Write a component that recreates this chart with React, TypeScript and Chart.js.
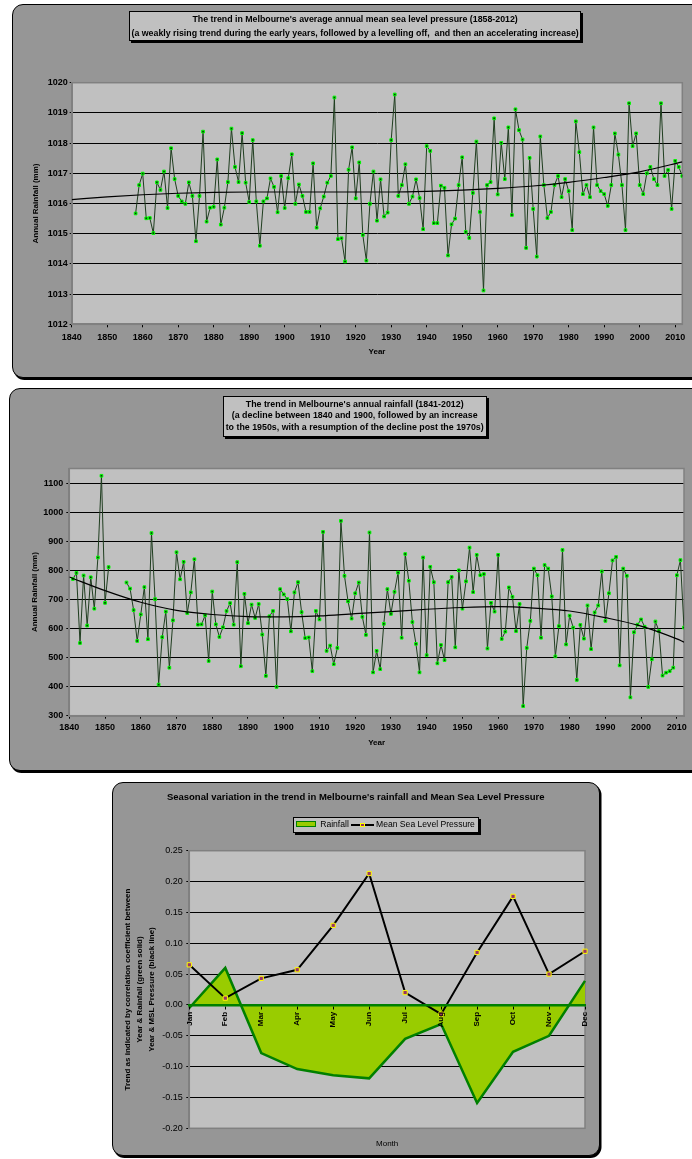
import React, { useEffect, useRef } from 'react';
import { Chart, registerables } from 'chart.js';

Chart.register(...registerables);

const FONT = '"Liberation Sans", Arial, Helvetica, sans-serif';

// ---------- Chart 1: Melbourne mean sea level pressure ----------
const PRESSURE_START_YEAR = 1858;
const PRESSURE_VALUES = [
  1015.67, 1016.61, 1016.99, 1015.51, 1015.52, 1015.02, 1016.70, 1016.45, 1017.06, 1015.85,
  1017.83, 1016.81, 1016.25, 1016.07, 1015.99, 1016.70, 1016.25, 1014.75, 1016.25, 1018.38,
  1015.40, 1015.86, 1015.89, 1017.46, 1015.30, 1015.86, 1016.71, 1018.48, 1017.21, 1016.71,
  1018.33, 1016.69, 1016.05, 1018.10, 1016.07, 1014.60, 1016.07, 1016.17, 1016.83, 1016.55,
  1015.71, 1016.91, 1015.85, 1016.84, 1017.63, 1015.99, 1016.63, 1016.25, 1015.72, 1015.72,
  1017.33, 1015.20, 1015.84, 1016.23, 1016.69, 1016.91, 1019.51, 1014.82, 1014.85, 1014.08,
  1017.12, 1017.86, 1016.17, 1017.36, 1014.96, 1014.11, 1015.99, 1017.06, 1015.43, 1016.80,
  1015.57, 1015.70, 1018.10, 1019.61, 1016.25, 1016.61, 1017.30, 1015.99, 1016.23, 1016.80,
  1016.18, 1015.15, 1017.90, 1017.74, 1015.35, 1015.35, 1016.59, 1016.52, 1014.28, 1015.31,
  1015.50, 1016.61, 1017.53, 1015.06, 1014.86, 1016.35, 1018.05, 1015.72, 1013.12, 1016.61,
  1016.71, 1018.82, 1016.30, 1018.01, 1016.81, 1018.52, 1015.62, 1019.12, 1018.43, 1018.12,
  1014.53, 1017.51, 1015.82, 1014.24, 1018.22, 1016.61, 1015.52, 1015.72, 1016.61, 1016.91,
  1016.21, 1016.81, 1016.41, 1015.12, 1018.72, 1017.70, 1016.31, 1016.61, 1016.21, 1018.52,
  1016.61, 1016.41, 1016.31, 1015.92, 1016.61, 1018.32, 1017.62, 1016.61, 1015.12, 1019.32,
  1017.90, 1018.32, 1016.61, 1016.31, 1017.00, 1017.21, 1016.81, 1016.61, 1019.32, 1016.91,
  1017.11, 1015.82, 1017.41, 1017.21, 1016.91,
];
const PRESSURE_TREND_YEARS = [1840, 1850, 1860, 1870, 1880, 1890, 1900, 1910, 1920, 1930, 1940, 1950, 1960, 1970, 1980, 1990, 2000, 2010, 2012];
const PRESSURE_TREND_VALUES = [1016.13, 1016.22, 1016.29, 1016.34, 1016.37, 1016.38, 1016.38, 1016.38, 1016.38, 1016.38, 1016.40, 1016.44, 1016.50, 1016.58, 1016.70, 1016.86, 1017.05, 1017.32, 1017.38];
const PRESSURE_TICKS = [1012, 1013, 1014, 1015, 1016, 1017, 1018, 1019, 1020];

// ---------- Chart 2: Melbourne annual rainfall ----------
const RAIN_START_YEAR = 1841;
const RAIN_VALUES = [
  770, 791, 550, 782, 610, 776, 668, 844, 1125, 688,
  811, null, null, null, null, 758, 737, 663, 557, 648,
  742, 563, 928, 701, 407, 570, 658, 465, 628, 862,
  769, 829, 653, 724, 838, 613, 614, 645, 488, 727,
  614, 571, 604, 660, 687, 613, 828, 470, 719, 618,
  682, 636, 684, 579, 437, 642, 660, 399, 735, 717,
  701, 590, 724, 759, 656, 567, 569, 453, 660, 631,
  932, 523, 541, 477, 533, 970, 781, 693, 634, 721,
  758, 640, 578, 930, 449, 523, 460, 616, 735, 650,
  726, 792, 568, 856, 764, 622, 547, 449, 844, 508,
  812, 759, 480, 543, 491, 759, 777, 535, 800, 668,
  762, 878, 725, 853, 783, 787, 531, 688, 658, 853,
  564, 589, 741, 709, 591, 684, 333, 533, 626, 806,
  783, 568, 818, 806, 710, 504, 608, 870, 545, 644,
  603, 423, 612, 565, 679, 529, 655, 679, 796, 626,
  721, 834, 846, 473, 806, 781, 363, 587, 613, 631,
  606, 399, 494, 624, 591, 438, 448, 453, 465, 783,
  835, 603,
];
const RAIN_TREND_YEARS = [1840, 1850, 1860, 1870, 1880, 1890, 1900, 1910, 1920, 1930, 1940, 1950, 1960, 1970, 1980, 1990, 2000, 2010, 2012];
const RAIN_TREND_VALUES = [777, 730, 690, 662, 648, 641, 640, 643, 651, 658, 666, 672, 675, 670, 660, 637, 608, 564, 553];
const RAIN_TICKS = [300, 400, 500, 600, 700, 800, 900, 1000, 1100];

const YEAR_TICKS = [1840, 1850, 1860, 1870, 1880, 1890, 1900, 1910, 1920, 1930, 1940, 1950, 1960, 1970, 1980, 1990, 2000, 2010];

// ---------- Chart 3: seasonal variation ----------
const MONTHS = ['Jan', 'Feb', 'Mar', 'Apr', 'May', 'Jun', 'Jul', 'Aug', 'Sep', 'Oct', 'Nov', 'Dec'];
const MONTHLY_RAIN_TREND = [-0.005, 0.060, -0.078, -0.104, -0.114, -0.119, -0.055, -0.031, -0.159, -0.076, -0.050, 0.039];
const MONTHLY_MSLP_TREND = [0.065, 0.011, 0.043, 0.057, 0.129, 0.213, 0.020, -0.015, 0.085, 0.176, 0.050, 0.087];
const CORR_TICKS = [-0.2, -0.15, -0.1, -0.05, 0, 0.05, 0.1, 0.15, 0.2, 0.25];

const PANEL_BG = '#969696';
const PLOT_BG = '#C0C0C0';

const plotFrame = {
  id: 'plotFrame',
  beforeDraw(chart: any) {
    const { ctx, chartArea: a } = chart;
    ctx.save();
    ctx.fillStyle = PLOT_BG;
    ctx.fillRect(a.left, a.top, a.right - a.left, a.bottom - a.top);
    ctx.restore();
  },
  beforeDatasetsDraw(chart: any) {
    const { ctx, chartArea: a } = chart;
    ctx.save();
    ctx.strokeStyle = '#808080';
    ctx.lineWidth = 1.5;
    ctx.strokeRect(a.left, a.top, a.right - a.left, a.bottom - a.top);
    ctx.restore();
  },
};

const bold = (size: number) => ({ family: FONT, size, weight: 'bold' as const });
const normal = (size: number) => ({ family: FONT, size, weight: 'normal' as const });

function yearAxis(height: number, tickPad: number) {
  return {
    type: 'linear',
    min: 1840,
    max: 2012,
    afterBuildTicks: (axis: any) => {
      axis.ticks = YEAR_TICKS.map((value) => ({ value }));
    },
    afterFit: (axis: any) => {
      axis.height = height;
    },
    ticks: {
      font: bold(9),
      color: '#000',
      padding: tickPad,
      maxRotation: 0,
      autoSkip: false,
      callback: (v: any) => String(v),
    },
    grid: { drawOnChartArea: false, tickLength: 3, color: '#000' },
    border: { color: '#808080', width: 2 },
    title: { display: true, text: 'Year', font: bold(8), color: '#000', padding: 0 },
  };
}

function makePressureConfig(): any {
  return {
    type: 'line',
    data: {
      datasets: [
        {
          label: 'Trend',
          data: PRESSURE_TREND_YEARS.map((x, i) => ({ x, y: PRESSURE_TREND_VALUES[i] })),
          borderColor: '#000',
          borderWidth: 1.2,
          pointRadius: 0,
          cubicInterpolationMode: 'monotone',
          order: 0,
        },
        {
          label: 'Mean sea level pressure',
          data: PRESSURE_VALUES.map((y, i) => ({ x: PRESSURE_START_YEAR + i, y })),
          borderColor: '#1f3d1f',
          borderWidth: 1,
          pointStyle: 'rect',
          pointRadius: 1.9,
          pointBorderWidth: 1,
          pointBorderColor: '#00ff00',
          pointBackgroundColor: '#0a3a0a',
          order: 1,
        },
      ],
    },
    options: {
      animation: false,
      responsive: false,
      layout: { padding: { left: 11.7, right: 9.7, top: 82.7, bottom: 22.2 } },
      plugins: { legend: { display: false }, tooltip: { enabled: false } },
      scales: {
        x: yearAxis(32.5, 4.5),
        y: {
          min: 1012,
          max: 1020,
          afterBuildTicks: (axis: any) => {
            axis.ticks = PRESSURE_TICKS.map((value) => ({ value }));
          },
          afterFit: (axis: any) => {
            axis.width = 60;
          },
          ticks: { font: bold(9), color: '#000', padding: 2, callback: (v: any) => String(v) },
          grid: { color: '#000', lineWidth: 1, tickLength: 2 },
          border: { color: '#808080', width: 2 },
          title: { display: true, text: 'Annual Rainfall (mm)', font: bold(8), color: '#000', padding: { top: 19.5, bottom: 0 } },
        },
      },
    },
    plugins: [plotFrame],
  };
}

function makeRainConfig(): any {
  return {
    type: 'line',
    data: {
      datasets: [
        {
          label: 'Trend',
          data: RAIN_TREND_YEARS.map((x, i) => ({ x, y: RAIN_TREND_VALUES[i] })),
          borderColor: '#000',
          borderWidth: 1.2,
          pointRadius: 0,
          cubicInterpolationMode: 'monotone',
          order: 0,
        },
        {
          label: 'Annual rainfall',
          data: RAIN_VALUES.map((y, i) => ({ x: RAIN_START_YEAR + i, y })),
          borderColor: '#1f3d1f',
          borderWidth: 1,
          spanGaps: false,
          pointStyle: 'rect',
          pointRadius: 1.9,
          pointBorderWidth: 1,
          pointBorderColor: '#00ff00',
          pointBackgroundColor: '#0a3a0a',
          order: 1,
        },
      ],
    },
    options: {
      animation: false,
      responsive: false,
      layout: { padding: { left: 11.3, right: 8, top: 88.5, bottom: 24.3 } },
      plugins: { legend: { display: false }, tooltip: { enabled: false } },
      scales: {
        x: yearAxis(32, 3.4),
        y: {
          min: 300,
          max: 1150,
          afterBuildTicks: (axis: any) => {
            axis.ticks = RAIN_TICKS.map((value) => ({ value }));
          },
          afterFit: (axis: any) => {
            axis.width = 58;
          },
          ticks: { font: bold(9), color: '#000', padding: 3, callback: (v: any) => String(v) },
          grid: { color: '#000', lineWidth: 1, tickLength: 3 },
          border: { color: '#808080', width: 2 },
          title: { display: true, text: 'Annual Rainfall (mm)', font: bold(8), color: '#000', padding: { top: 18.9, bottom: 0 } },
        },
      },
    },
    plugins: [plotFrame],
  };
}

function makeSeasonalConfig(): any {
  return {
    type: 'line',
    data: {
      labels: MONTHS,
      datasets: [
        {
          label: 'Rainfall',
          data: MONTHLY_RAIN_TREND,
          xAxisID: 'x',
          fill: 'origin',
          backgroundColor: '#99CC00',
          borderColor: '#008000',
          borderWidth: 2.5,
          pointRadius: 0,
          order: 2,
        },
        {
          label: 'Mean Sea Level Pressure',
          data: MONTHLY_MSLP_TREND,
          xAxisID: 'x',
          borderColor: '#000',
          borderWidth: 2,
          pointStyle: 'rect',
          pointRadius: 3,
          pointBorderWidth: 1,
          pointBorderColor: '#FFFF00',
          pointBackgroundColor: '#993366',
          order: 1,
        },
      ],
    },
    options: {
      animation: false,
      responsive: false,
      layout: { padding: { left: 2, right: 16, top: 69.7, bottom: 8.2 } },
      plugins: { legend: { display: false }, tooltip: { enabled: false } },
      scales: {
        x: {
          type: 'category',
          position: { y: 0 },
          offset: false,
          ticks: { z: 1, autoSkip: false, minRotation: 90, maxRotation: 90, font: bold(8), color: '#000', padding: 4 },
          grid: { z: 1, drawOnChartArea: false, tickLength: 3, color: '#000' },
          border: { z: 1, color: '#008000', width: 2.5 },
        },
        x2: {
          type: 'category',
          position: 'bottom',
          labels: MONTHS,
          offset: false,
          ticks: { display: false },
          grid: { display: false, drawTicks: false },
          border: { display: false },
          title: { display: true, text: 'Month', font: normal(8), color: '#000', padding: 0 },
          afterFit: (axis: any) => {
            axis.height = 20.5;
          },
        },
        y: {
          min: -0.2,
          max: 0.25,
          afterBuildTicks: (axis: any) => {
            axis.ticks = CORR_TICKS.map((value) => ({ value }));
          },
          afterFit: (axis: any) => {
            axis.width = 74.3;
          },
          ticks: { font: normal(9), color: '#000', padding: 3.6, callback: (v: any) => Number(v).toFixed(2) },
          grid: { color: '#000', lineWidth: 1, tickLength: 3 },
          border: { color: '#808080', width: 2 },
          title: {
            display: true,
            text: [
              'Trend as indicated by correlation coefficient between',
              'Year & Rainfall (green solid)',
              'Year & MSL Pressure (black line)',
            ],
            font: { family: FONT, size: 8, weight: 'bold', lineHeight: 1.47 },
            color: '#000',
            padding: { top: 7.1, bottom: 0 },
          },
        },
      },
    },
    plugins: [plotFrame],
  };
}

function ChartCanvas(props: { left: number; top: number; width: number; height: number; makeConfig: () => any }) {
  const ref = useRef<HTMLCanvasElement | null>(null);
  useEffect(() => {
    if (!ref.current) return;
    const chart = new Chart(ref.current, props.makeConfig());
    return () => chart.destroy();
  }, []);
  return (
    <canvas
      ref={ref}
      width={props.width}
      height={props.height}
      style={{ position: 'absolute', left: props.left, top: props.top, width: props.width, height: props.height }}
    />
  );
}

function Panel(props: { left: number; top: number; width: number; height: number }) {
  return (
    <div
      style={{
        position: 'absolute',
        left: props.left,
        top: props.top,
        width: props.width,
        height: props.height,
        boxSizing: 'border-box',
        background: PANEL_BG,
        border: '1px solid #000',
        borderRadius: 11,
        boxShadow: '1.5px 2px 0 #000',
      }}
    />
  );
}

function TitleBox(props: { left: number; top: number; width: number; height: number; lines: string[]; lineHeight: number; fontSize: number }) {
  return (
    <div
      style={{
        position: 'absolute',
        left: props.left,
        top: props.top,
        width: props.width,
        height: props.height,
        boxSizing: 'border-box',
        background: PLOT_BG,
        border: '1px solid #000',
        boxShadow: '2px 2px 0 #000',
        display: 'flex',
        flexDirection: 'column',
        justifyContent: 'center',
        alignItems: 'center',
        fontFamily: FONT,
        fontWeight: 'bold',
        fontSize: props.fontSize,
        lineHeight: props.lineHeight + 'px',
        color: '#000',
        whiteSpace: 'pre',
      }}
    >
      {props.lines.map((l, i) => (
        <div key={i}>{l}</div>
      ))}
    </div>
  );
}

export default function App() {
  return (
    <div
      style={{
        position: 'absolute',
        left: 0,
        top: 0,
        width: 692,
        height: 1159,
        overflow: 'hidden',
        background: '#fff',
        fontFamily: FONT,
      }}
    >
      {/* Chart 1 */}
      <Panel left={11.5} top={4} width={720} height={374} />
      <ChartCanvas left={0} top={0} width={692} height={379} makeConfig={makePressureConfig} />
      <TitleBox
        left={129.3}
        top={11}
        width={451.7}
        height={29.7}
        fontSize={8.8}
        lineHeight={14.3}
        lines={[
          "The trend in Melbourne's average annual mean sea level pressure (1858-2012)",
          '(a weakly rising trend during the early years, followed by a levelling off,  and then an accelerating increase)',
        ]}
      />

      {/* Chart 2 */}
      <Panel left={8.5} top={388.3} width={720} height={383} />
      <ChartCanvas left={0} top={380} width={692} height={392} makeConfig={makeRainConfig} />
      <TitleBox
        left={222.7}
        top={395.7}
        width={264}
        height={41}
        fontSize={8.85}
        lineHeight={11.7}
        lines={[
          "The trend in Melbourne's annual rainfall (1841-2012)",
          '(a decline between 1840 and 1900, followed by an increase',
          'to the 1950s, with a resumption of the decline post the 1970s)',
        ]}
      />

      {/* Chart 3 */}
      <Panel left={111.7} top={781.5} width={488} height={374} />
      <ChartCanvas left={113} top={781} width={488} height={376} makeConfig={makeSeasonalConfig} />
      <div
        style={{
          position: 'absolute',
          left: 111.7,
          width: 488,
          top: 791,
          textAlign: 'center',
          fontFamily: FONT,
          fontWeight: 'bold',
          fontSize: 9.5,
          lineHeight: '12px',
          color: '#000',
          whiteSpace: 'pre',
        }}
      >
        Seasonal variation in the trend in Melbourne's rainfall and Mean Sea Level Pressure
      </div>
      <div
        style={{
          position: 'absolute',
          left: 292.7,
          top: 816.7,
          width: 186.3,
          height: 16.3,
          boxSizing: 'border-box',
          background: PLOT_BG,
          border: '1px solid #000',
          boxShadow: '2px 2px 0 #000',
          fontFamily: FONT,
          fontSize: 8.6,
          color: '#000',
        }}
      >
        <div
          style={{
            position: 'absolute',
            left: 2,
            top: 3.5,
            width: 20.7,
            height: 5.7,
            boxSizing: 'border-box',
            background: '#99CC00',
            border: '1.5px solid #008000',
          }}
        />
        <div style={{ position: 'absolute', left: 26.5, top: 1.5, lineHeight: '11px', whiteSpace: 'pre' }}>Rainfall</div>
        <div style={{ position: 'absolute', left: 57, top: 6.3, width: 23.6, height: 2, background: '#000' }} />
        <div
          style={{
            position: 'absolute',
            left: 66.6,
            top: 5,
            width: 4.6,
            height: 4.6,
            boxSizing: 'border-box',
            background: '#993366',
            border: '1px solid #FFFF00',
          }}
        />
        <div style={{ position: 'absolute', left: 82.3, top: 1.5, lineHeight: '11px', whiteSpace: 'pre' }}>Mean Sea Level Pressure</div>
      </div>
    </div>
  );
}
